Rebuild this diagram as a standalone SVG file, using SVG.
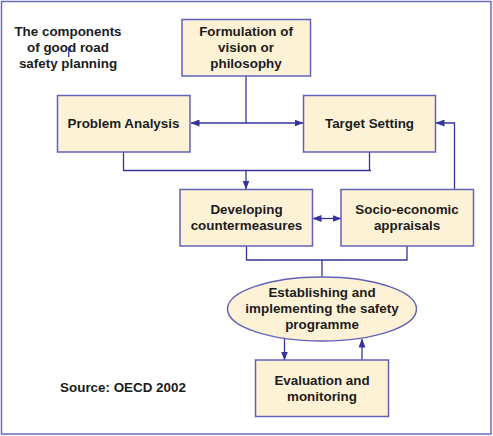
<svg xmlns="http://www.w3.org/2000/svg" width="493" height="436" viewBox="0 0 493 436">
<style>
.box{fill:#fdf2d6;stroke:#6262b8;stroke-width:1.5}
.t{font-family:"Liberation Sans",Arial,sans-serif;font-weight:bold;font-size:13.4px;fill:#1c1c1c;text-anchor:middle}
.c{fill:none;stroke:#34349a;stroke-width:1.3}
</style>
<defs>
<marker id="ah" markerWidth="9" markerHeight="7" refX="8.5" refY="3.5" orient="auto" markerUnits="userSpaceOnUse">
<path d="M0,0 L9,3.5 L0,7 Z" fill="#34349a"/>
</marker>
<marker id="as" markerWidth="9" markerHeight="7" refX="0.5" refY="3.5" orient="auto" markerUnits="userSpaceOnUse">
<path d="M9,0 L0,3.5 L9,7 Z" fill="#34349a"/>
</marker>
</defs>
<rect x="0" y="0" width="493" height="436" fill="#ffffff"/>
<rect x="1.5" y="1.5" width="489.5" height="432.5" fill="none" stroke="#6a6ac0" stroke-width="1.5"/>
<g id="title">
<text class="t" x="68" y="36">The components</text>
<text class="t" x="68" y="52">of good road</text>
<text class="t" x="68" y="68">safety planning</text>
</g>
<g id="connectors">
<line class="c" x1="68.7" y1="47" x2="68.7" y2="57" stroke="#5a5ab8" stroke-width="1"/>
<path class="c" d="M246,76 V123"/>
<path class="c" d="M246,123 H191" marker-end="url(#ah)"/>
<path class="c" d="M246,123 H303" marker-end="url(#ah)"/>
<path class="c" d="M123.5,152 V170.5 H371 M369.5,152 V170.5"/>
<path class="c" d="M246,170.5 V189" marker-end="url(#ah)"/>
<path class="c" d="M313,218.5 H341" marker-start="url(#as)" marker-end="url(#ah)"/>
<path class="c" d="M454.5,189 V123 H436" marker-end="url(#ah)"/>
<path class="c" d="M246.5,246 V260 H407 V246 M322,260 V277"/>
<path class="c" d="M284.5,339 V360" marker-end="url(#ah)"/>
<path class="c" d="M362,360 V339" marker-end="url(#ah)"/>
</g>
<g id="formulation">
<rect class="box" x="182" y="19.5" width="128.5" height="56.5"/>
<text class="t" x="246" y="36">Formulation of</text>
<text class="t" x="246" y="52">vision or</text>
<text class="t" x="246" y="68">philosophy</text>
</g>
<g id="problem-analysis">
<rect class="box" x="57.5" y="95.5" width="132.5" height="56.5"/>
<text class="t" x="123.5" y="128">Problem Analysis</text>
</g>
<g id="target-setting">
<rect class="box" x="303.5" y="95.5" width="132" height="56.5"/>
<text class="t" x="369.5" y="128">Target Setting</text>
</g>
<g id="developing">
<rect class="box" x="180" y="189.5" width="132.5" height="56.5"/>
<text class="t" x="246.5" y="214">Developing</text>
<text class="t" x="246.5" y="230">countermeasures</text>
</g>
<g id="socio-economic">
<rect class="box" x="341" y="189.5" width="132.5" height="56.5"/>
<text class="t" x="407" y="214">Socio-economic</text>
<text class="t" x="407" y="230">appraisals</text>
</g>
<g id="establishing">
<ellipse class="box" cx="322" cy="309" rx="94.5" ry="32"/>
<text class="t" x="322" y="297">Establishing and</text>
<text class="t" x="322" y="313">implementing the safety</text>
<text class="t" x="322" y="329">programme</text>
</g>
<g id="evaluation">
<rect class="box" x="255.5" y="360" width="133" height="56.5"/>
<text class="t" x="322" y="385">Evaluation and</text>
<text class="t" x="322" y="401">monitoring</text>
</g>
<g id="source">
<text class="t" x="123" y="392">Source: OECD 2002</text>
</g>
</svg>
